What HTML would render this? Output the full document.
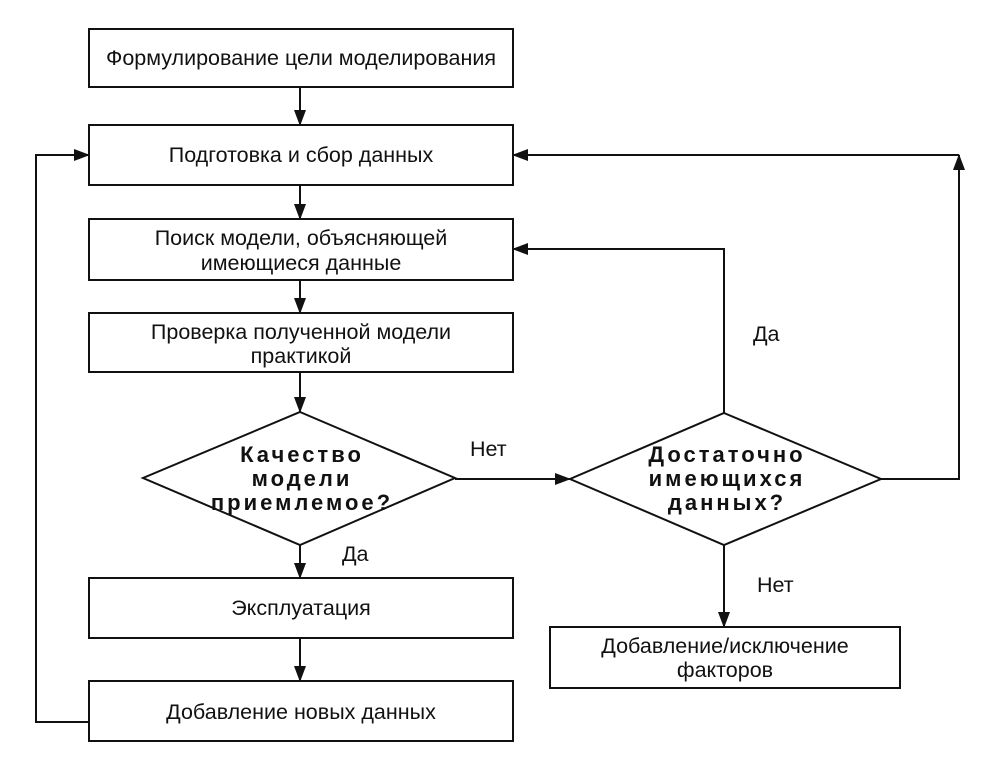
<!DOCTYPE html>
<html><head><meta charset="utf-8"><style>
html,body{margin:0;padding:0;background:#fff;}
svg{display:block;}
text{font-family:"Liberation Sans",sans-serif;font-size:21.5px;fill:#111;}
.b{font-weight:bold;font-size:22px;letter-spacing:3px;}
</style></head><body>
<svg width="982" height="760" viewBox="0 0 982 760" xmlns="http://www.w3.org/2000/svg">
<defs><marker id="a" markerWidth="16" markerHeight="12" refX="15" refY="6" orient="auto" markerUnits="userSpaceOnUse"><path d="M0,0 L16,6 L0,12 Z" fill="#111"/></marker></defs>
<g fill="none" stroke="#111" stroke-width="2">
<rect x="89" y="29" width="424" height="58"/>
<rect x="89" y="125" width="424" height="60"/>
<rect x="89" y="219" width="424" height="61"/>
<rect x="89" y="313" width="424" height="59"/>
<polygon points="300,412 455,478 300,545 143,478"/>
<rect x="89" y="578" width="424" height="60"/>
<rect x="89" y="681" width="424" height="60"/>
<polygon points="724,413 881,479 724,545 570,479"/>
<rect x="550" y="627" width="350" height="61"/>
<line x1="300" y1="87" x2="300" y2="125" marker-end="url(#a)"/>
<line x1="300" y1="185" x2="300" y2="219" marker-end="url(#a)"/>
<line x1="300" y1="280" x2="300" y2="313" marker-end="url(#a)"/>
<line x1="300" y1="372" x2="300" y2="412" marker-end="url(#a)"/>
<line x1="300" y1="545" x2="300" y2="578" marker-end="url(#a)"/>
<line x1="300" y1="638" x2="300" y2="681" marker-end="url(#a)"/>
<line x1="455" y1="479" x2="570" y2="479" marker-end="url(#a)"/>
<line x1="724" y1="545" x2="724" y2="627" marker-end="url(#a)"/>
<polyline points="89,722 36,722 36,155 89,155" marker-end="url(#a)"/>
<polyline points="881,479 959,479 959,155" marker-end="url(#a)"/>
<polyline points="959,155 513,155" marker-end="url(#a)"/>
<polyline points="724,413 724,249 513,249" marker-end="url(#a)"/>
</g>
<g text-anchor="middle">
<text x="301" y="65">Формулирование цели моделирования</text>
<text x="301" y="162">Подготовка и сбор данных</text>
<text x="301" y="245">Поиск модели, объясняющей</text>
<text x="301" y="270">имеющиеся данные</text>
<text x="301" y="339">Проверка полученной модели</text>
<text x="301" y="363">практикой</text>
<text class="b" x="302" y="462">Качество</text>
<text class="b" x="302" y="486">модели</text>
<text class="b" x="302" y="510">приемлемое?</text>
<text x="301" y="615">Эксплуатация</text>
<text x="301" y="719">Добавление новых данных</text>
<text class="b" x="727" y="462">Достаточно</text>
<text class="b" x="727" y="486">имеющихся</text>
<text class="b" x="727" y="510">данных?</text>
<text x="725" y="653">Добавление/исключение</text>
<text x="725" y="677">факторов</text>
</g>
<text x="470" y="456">Нет</text>
<text x="342" y="561">Да</text>
<text x="753" y="341">Да</text>
<text x="757" y="592">Нет</text>
</svg>
</body></html>
